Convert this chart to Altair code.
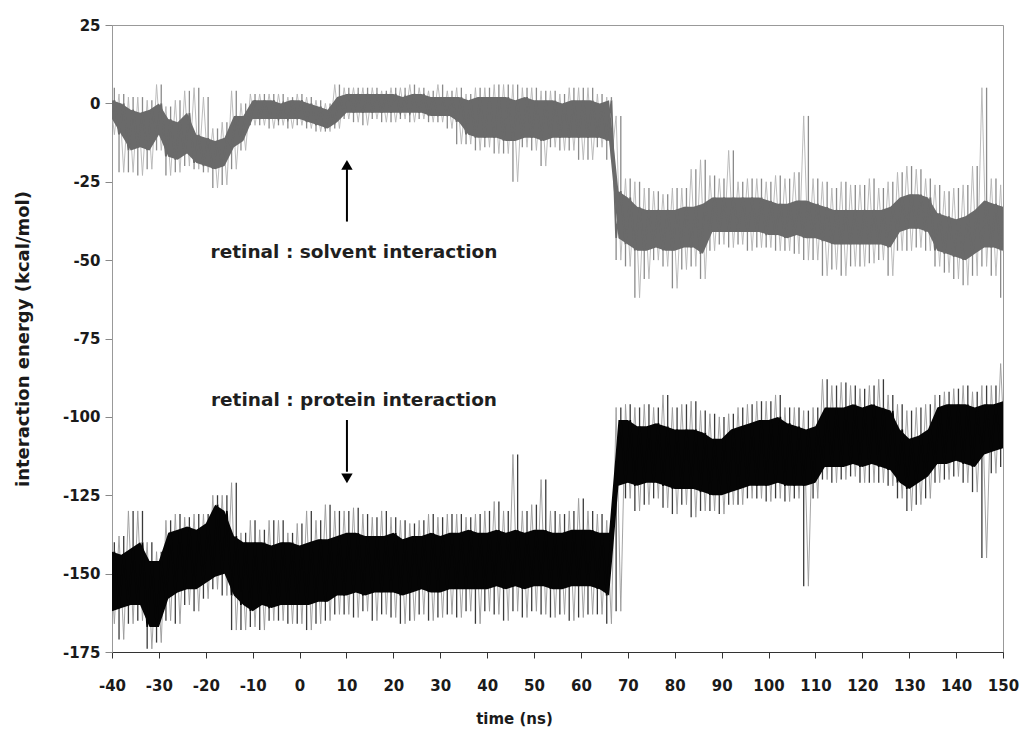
import altair as alt
import pandas as pd

# Time bins (ns), 2 ns apart
t_bins = list(range(-40, 151, 2))

# retinal : solvent interaction (kcal/mol) - dense core band and outer extremes per bin
solv_core_lo = [
    -5, -10, -15, -14, -15, -10, -17, -18, -16, -19,
    -20, -21, -20, -14, -12, -5, -5, -5, -5, -5,
    -5, -6, -7, -8, -6, -3, -3, -3, -3, -3,
    -3, -3, -3, -3, -4, -4, -4, -6, -10, -11,
    -11, -11, -12, -12, -11, -11, -12, -11, -11, -11,
    -11, -11, -11, -12, -43, -45, -47, -47, -46, -47,
    -47, -46, -46, -48, -41, -41, -41, -41, -41, -41,
    -42, -42, -43, -42, -43, -43, -44, -45, -45, -45,
    -45, -45, -45, -46, -41, -40, -40, -41, -47, -48,
    -49, -50, -48, -46, -46, -47,
]
solv_core_hi = [
    1, 0, -2, -3, -2, 0, -5, -6, -3, -10,
    -11, -12, -11, -4, -4, 1, 1, 1, 0, 1,
    1, 0, -1, -2, 2, 3, 3, 3, 3, 3,
    3, 2, 3, 3, 2, 2, 2, 2, 1, 2,
    2, 2, 2, 1, 2, 1, 1, 1, 0, 1,
    1, 1, 0, 1, -28, -30, -33, -34, -34, -34,
    -34, -33, -33, -32, -30, -30, -30, -30, -30, -30,
    -31, -32, -32, -31, -31, -32, -33, -34, -34, -34,
    -34, -34, -34, -33, -30, -29, -29, -30, -35, -36,
    -37, -36, -34, -31, -32, -33,
]
solv_ext_lo = [
    -10, -22, -22, -23, -21, -15, -23, -22, -20, -21,
    -22, -27, -26, -21, -15, -7, -7, -8, -7, -8,
    -7, -8, -9, -9, -8, -5, -6, -7, -5, -6,
    -6, -5, -6, -5, -6, -6, -8, -13, -13, -15,
    -14, -16, -16, -25, -14, -15, -20, -14, -15, -15,
    -18, -18, -14, -18, -50, -52, -62, -56, -50, -52,
    -59, -53, -52, -56, -47, -45, -46, -45, -47, -46,
    -46, -47, -47, -48, -50, -50, -55, -53, -55, -52,
    -52, -51, -50, -55, -47, -47, -46, -47, -52, -54,
    -56, -58, -55, -52, -55, -62,
]
solv_ext_hi = [
    5, 3, 2, 2, 1, 6, -1, 1, 4, 5,
    2, -8, -6, 4, 0, 3, 3, 3, 3, 2,
    3, 2, 1, 0, 6, 5, 5, 5, 5, 4,
    5, 5, 6, 5, 4, 6, 4, 5, 3, 5,
    5, 6, 6, 6, 5, 5, 4, 4, 3, 5,
    5, 5, 3, 2, -4, -24, -25, -27, -28, -29,
    -27, -27, -21, -18, -23, -24, -15, -25, -24, -24,
    -25, -23, -24, -22, -4, -24, -25, -27, -25, -26,
    -26, -24, -27, -25, -22, -20, -21, -24, -26, -28,
    -27, -26, -20, 5, -24, -26,
]

# retinal : protein interaction (kcal/mol)
prot_core_lo = [
    -162, -161, -160, -160, -167, -167, -158, -156, -155, -155,
    -153, -151, -150, -157, -160, -162, -160, -161, -160, -160,
    -160, -160, -159, -159, -157, -157, -156, -157, -156, -156,
    -156, -157, -156, -155, -156, -156, -155, -155, -155, -155,
    -155, -154, -155, -154, -155, -154, -154, -155, -155, -154,
    -154, -154, -155, -157, -122, -121, -122, -121, -121, -122,
    -123, -123, -123, -124, -125, -125, -124, -123, -122, -122,
    -122, -121, -122, -122, -122, -121, -116, -116, -116, -115,
    -116, -115, -116, -117, -121, -123, -121, -119, -115, -115,
    -114, -115, -116, -112, -111, -110,
]
prot_core_hi = [
    -143, -144, -142, -140, -146, -146, -137, -136, -135, -136,
    -134, -128, -130, -138, -140, -140, -140, -141, -140, -140,
    -141, -140, -139, -139, -138, -137, -137, -138, -138, -138,
    -137, -139, -138, -138, -137, -138, -137, -137, -136, -137,
    -137, -136, -137, -136, -137, -136, -136, -137, -137, -136,
    -136, -136, -137, -137, -101, -101, -103, -103, -102, -103,
    -104, -104, -104, -105, -107, -107, -104, -103, -102, -101,
    -101, -100, -102, -103, -104, -103, -97, -97, -97, -96,
    -97, -96, -97, -98, -104, -107, -106, -104, -97, -96,
    -96, -96, -97, -96, -96, -95,
]
prot_ext_lo = [
    -166, -171, -166, -165, -174, -172, -165, -166, -160, -162,
    -158, -155, -157, -168, -168, -167, -168, -165, -165, -166,
    -166, -168, -166, -165, -163, -163, -164, -162, -165, -163,
    -164, -166, -165, -163, -165, -164, -163, -164, -162, -166,
    -162, -163, -165, -162, -164, -162, -163, -164, -163, -165,
    -164, -163, -163, -166, -162, -126, -130, -128, -126, -129,
    -131, -128, -132, -130, -130, -131, -128, -128, -126, -126,
    -127, -126, -127, -126, -154, -126, -120, -121, -120, -119,
    -121, -121, -121, -122, -126, -130, -128, -126, -121, -120,
    -119, -121, -124, -145, -118, -116,
]
prot_ext_hi = [
    -140, -138, -130, -130, -140, -143, -133, -131, -132, -131,
    -131, -125, -125, -121, -137, -133, -136, -133, -133, -137,
    -134, -130, -133, -128, -130, -130, -129, -131, -132, -130,
    -132, -133, -134, -133, -131, -132, -131, -131, -132, -131,
    -130, -127, -130, -112, -130, -128, -120, -130, -131, -130,
    -126, -130, -131, -133, -97, -96, -97, -96, -97, -93,
    -97, -96, -95, -98, -99, -100, -99, -97, -96, -95,
    -95, -93, -97, -97, -98, -97, -88, -90, -89, -90,
    -91, -90, -88, -93, -96, -98, -97, -96, -93, -92,
    -91, -90, -92, -90, -90, -83,
]

# Annotations: text labels and arrows (time, energy)
label_text = ["retinal : solvent interaction", "retinal : protein interaction"]
label_t = [11.6, 11.6]
label_v = [-47.3, -94.6]
arrow_t = [10.1, 10.1]
arrow_from = [-37.7, -101.0]
arrow_to = [-21.0, -117.5]
head_v = [-19.6, -119.6]
head_shape = ["triangle-up", "triangle-down"]

FONT = "DejaVu Sans"
X_DOMAIN = [-40, 150]
Y_DOMAIN = [-175, 25]

x_axis = alt.Axis(
    values=list(range(-40, 151, 10)),
    labelExpr="'' + datum.value",
    labelFont=FONT, labelFontSize=15, labelFontWeight="bold", labelColor="#1a1a1a",
    labelPadding=20, labelFlush=False, labelOverlap=False,
    tickSize=6, tickColor="#333", domainColor="#333", grid=False,
    title="time (ns)", titleFont=FONT, titleFontSize=15,
    titleFontWeight="bold", titleColor="#1a1a1a", titlePadding=18,
    titleX=402, titleAnchor="middle",
)
y_axis = alt.Axis(
    values=list(range(-175, 26, 25)),
    labelExpr="'' + datum.value",
    labelFont=FONT, labelFontSize=15, labelFontWeight="bold", labelColor="#1a1a1a",
    labelPadding=5, tickSize=7, tickColor="#888",
    domainColor="#999", grid=False,
    title="interaction energy (kcal/mol)", titleFont=FONT, titleFontSize=18,
    titleFontWeight="bold", titleColor="#1a1a1a", titlePadding=30,
)
x_scale = alt.Scale(domain=X_DOMAIN, nice=False, zero=False)
y_scale = alt.Scale(domain=Y_DOMAIN, nice=False, zero=False)


def xq(field):
    return alt.X(field, scale=x_scale, axis=x_axis)


def yq(field):
    return alt.Y(field, scale=y_scale, axis=y_axis)


def series_table(core_lo, core_hi, ext_lo, ext_hi):
    return pd.DataFrame({
        "t": t_bins,
        "t_up": [t + 0.5 for t in t_bins],
        "t_dn": [t - 0.5 for t in t_bins],
        "core_lo": core_lo, "core_hi": core_hi,
        "ext_lo": ext_lo, "ext_hi": ext_hi,
    })


def trace(lo, hi, hi_first):
    # a sawtooth path visiting both ends of every bin
    rows = []
    for i, t in enumerate(t_bins):
        first, second = (hi[i], lo[i]) if hi_first else (lo[i], hi[i])
        rows.append({"t": t - 0.5, "v": first, "k": 2 * i})
        rows.append({"t": t + 0.5, "v": second, "k": 2 * i + 1})
    return pd.DataFrame(rows)


def series_layers(core_lo, core_hi, ext_lo, ext_hi, core_color, mid_color, light_color):
    df = series_table(core_lo, core_hi, ext_lo, ext_hi)
    base = alt.Chart(df)
    fringe = alt.Chart(trace(ext_lo, ext_hi, True)).mark_line(
        color=light_color, strokeWidth=0.9, clip=True
    ).encode(x=xq("t:Q"), y=yq("v:Q"), order="k:Q")
    up = base.mark_rule(color=mid_color, strokeWidth=1.3, clip=True).encode(
        x=xq("t_up:Q"), y=yq("core_hi:Q"), y2="ext_hi:Q"
    )
    dn = base.mark_rule(color=mid_color, strokeWidth=1.3, clip=True).encode(
        x=xq("t_dn:Q"), y=yq("core_lo:Q"), y2="ext_lo:Q"
    )
    band = base.mark_area(color=core_color, interpolate="linear", clip=True).encode(
        x=xq("t:Q"), y=yq("core_lo:Q"), y2="core_hi:Q"
    )
    jag = alt.Chart(trace(core_lo, core_hi, False)).mark_line(
        color=core_color, strokeWidth=1.8, clip=True
    ).encode(x=xq("t:Q"), y=yq("v:Q"), order="k:Q")
    return [fringe, up, dn, band, jag]


solv = series_layers(solv_core_lo, solv_core_hi, solv_ext_lo, solv_ext_hi,
                     "#6a6a6a", "#8a8a8a", "#b4b4b4")
prot = series_layers(prot_core_lo, prot_core_hi, prot_ext_lo, prot_ext_hi,
                     "#050505", "#3a3a3a", "#9a9a9a")

labels = alt.Chart(pd.DataFrame({"t": label_t, "v": label_v, "txt": label_text})).mark_text(
    font=FONT, fontSize=18.5, fontWeight="bold", color="#1f1f1f", align="center", baseline="middle"
).encode(x=xq("t:Q"), y=yq("v:Q"), text="txt:N")

arrows = alt.Chart(pd.DataFrame({"t": arrow_t, "a": arrow_from, "b": arrow_to})).mark_rule(
    color="#000", strokeWidth=2
).encode(x=xq("t:Q"), y=yq("a:Q"), y2="b:Q")

heads = alt.Chart(pd.DataFrame({"t": arrow_t, "v": head_v, "s": head_shape})).mark_point(
    filled=True, color="#000", size=130, opacity=1
).encode(
    x=xq("t:Q"), y=yq("v:Q"),
    shape=alt.Shape("s:N", scale=None, legend=None),
)

chart = alt.layer(*solv, *prot, labels, arrows, heads).properties(
    width=891, height=627, autosize="none",
    padding={"left": 112, "top": 25, "right": 21, "bottom": 87},
    background="white",
).configure_view(stroke="#999", strokeWidth=1)

chart.save("out.html", embed_options={"renderer": "svg", "actions": False})
